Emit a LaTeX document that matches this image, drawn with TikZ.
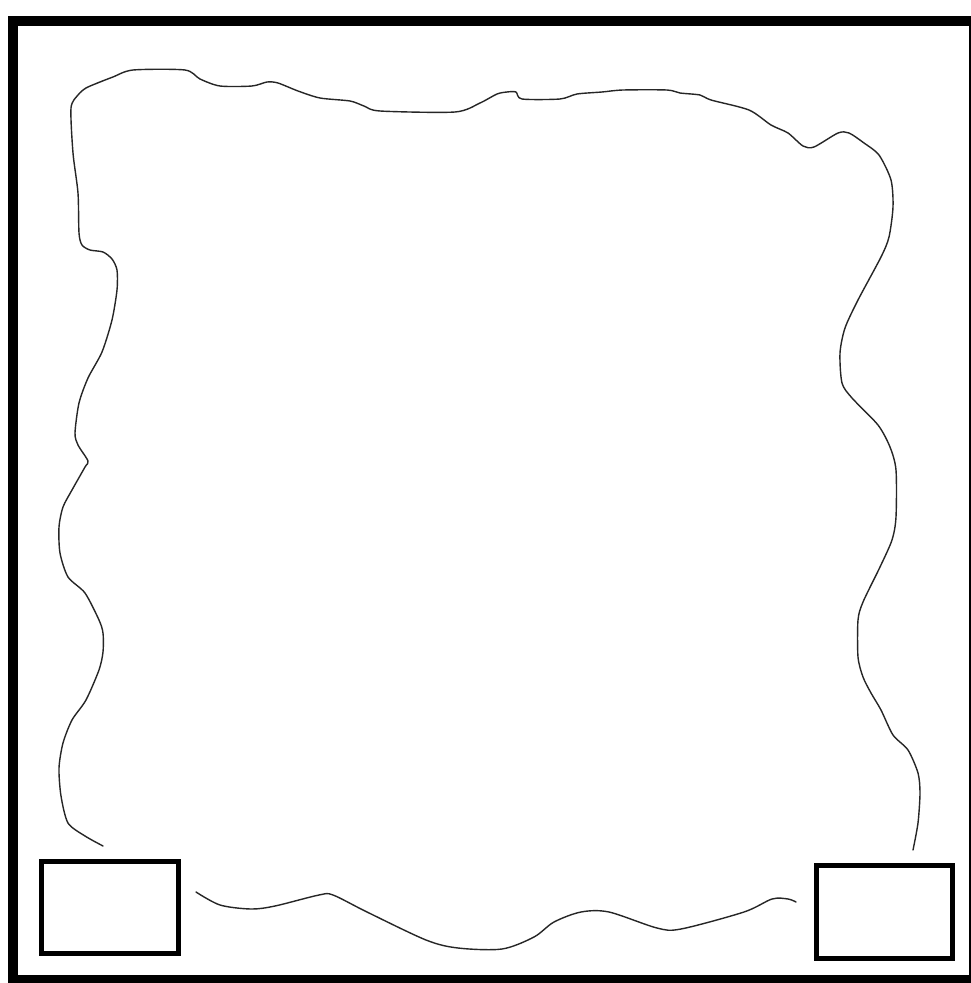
\documentclass[tikz,border=0pt]{standalone}
\begin{document}
\begin{tikzpicture}[x=1pt,y=-1pt,
  framebox/.style={draw=black,line width=10pt},
  smallbox/.style={draw=black,line width=5pt},
  wave/.style={draw=black!85,line width=1.4pt,line join=round,line cap=round}]
\useasboundingbox (0,0) rectangle (971,983);
\clip (0,0) rectangle (971,983);
\fill[white] (0,0) rectangle (971,983);
% outer frame (right and bottom partly cut off)
\draw[framebox] (13,20.5) rectangle (974,980);
% corner boxes
\draw[smallbox] (41,861.5) rectangle (178,953.5);
\draw[smallbox] (816.5,865.5) rectangle (952.5,958);
% main wavy outline
\draw[wave] plot[smooth,tension=0.45] coordinates {
(103,846) (85,836) (68,823) (61,796) (59,768) (63,743) (72,720) (86,700)
(99,670) (103,652) (103,633) (99,620) (85,593) (68,577) (60,553) (59,527)
(63,507) (72,490) (85,467) (88,461) (78,445) (75,433) (79,403) (88,378)
(102,352) (112,320) (117,290) (117,270) (112,259) (103,252) (90,250)
(82,245) (79,233) (78,193) (73,153) (71,108) (78,95) (86,88) (100,82)
(113,77) (133,70) (185,70) (200,79) (220,86) (252,86) (267,82) (278,83)
(298,91) (320,98) (350,101) (364,106) (380,111) (455,112)
(480,103) (497,94) (507,92) (516,92) (522,99) (560,99) (577,94) (602,92)
(623,90) (667,90) (680,93) (700,95) (711,100) (749,110) (771,125)
(788,133) (803,146) (814,147) (838,133) (849,133) (864,143) (879,155)
(891,180) (893,207) (889,237) (881,257) (858,300) (845,328) (840,353)
(842,383) (852,398) (878,425) (890,447) (896,470) (896,517) (892,540)
(880,567) (863,602) (858,620) (858,657) (863,677) (871,693) (881,710)
(893,735) (908,750) (918,773) (920,793) (918,823) (913,850)};
% bottom wavy line
\draw[wave] plot[smooth,tension=0.5] coordinates {
(196,892) (220,905) (251,909) (275,906) (319,895) (333,895) (367,912)
(426,940) (458,948) (502,949) (534,937) (554,922) (581,912) (609,912)
(657,928) (681,929) (744,912) (772,899) (788,899) (796,902)};
\end{tikzpicture}
\end{document}
